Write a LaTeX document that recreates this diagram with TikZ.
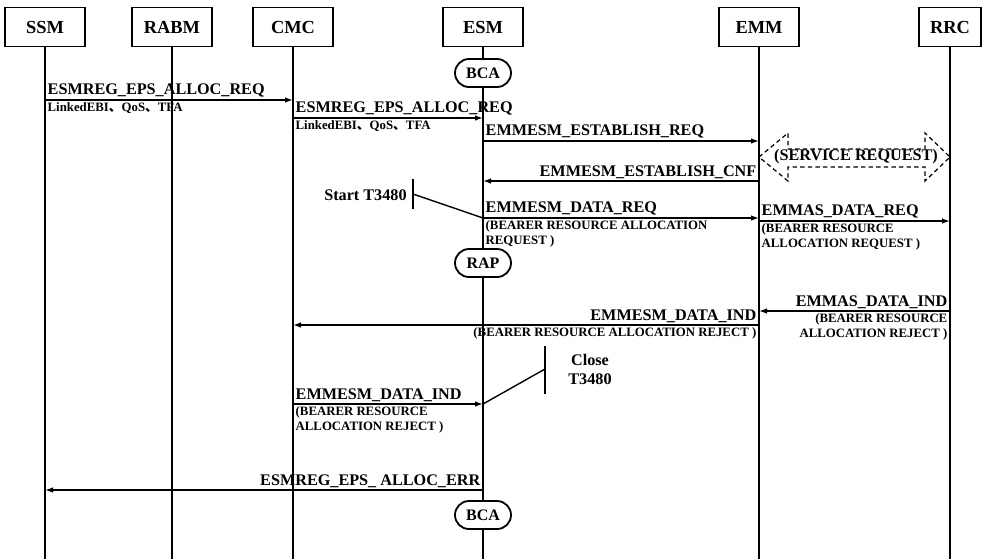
\documentclass[tikz,border=0pt]{standalone}
\usepackage{fontspec}
\setmainfont{Liberation Serif}
\newfontfamily\cjk{Noto Sans CJK SC}
\usetikzlibrary{arrows.meta, positioning, shapes.misc}

\tikzset{
  entity/.style={draw, line width=0.9pt, minimum height=19.5pt, inner sep=1pt,
                 font=\fontsize{9.2}{11}\selectfont\bfseries},
  proc/.style={rounded rectangle, draw, line width=0.9pt, fill=white,
               minimum width=30pt, minimum height=14pt, inner sep=1pt,
               font=\fontsize{8}{10}\selectfont\bfseries},
  life/.style={line width=0.7pt},
  msg/.style={line width=0.7pt, -{Latex[length=4pt,width=2.8pt]}},
  lbl/.style={font=\fontsize{8.1}{9.5}\selectfont\bfseries, inner sep=1pt},
  sublbl/.style={font=\fontsize{6.4}{7.5}\selectfont\bfseries, inner sep=1pt, align=left},
}

\begin{document}
\begin{tikzpicture}[x=0.5pt, y=-0.5pt]
  \useasboundingbox (0,0) rectangle (990,559);

  % Entities with lifelines
  \foreach \nm/\x/\w in {SSM/45/40pt, RABM/172/40pt, CMC/293/40pt,
                         ESM/483/40pt, EMM/759/40pt, RRC/950/31pt} {
    \node[entity, minimum width=\w] (\nm) at (\x,27) {\nm};
    \draw[life] (\nm.south) -- (\nm |- 0,559);
  }

  % Procedures on the ESM lifeline
  \node[proc] (bcaTop) at (483,73) {BCA};
  \node[proc] (rap) at (483,263) {RAP};
  \node[proc] (bcaEnd) at (483,515) {BCA};

  % Allocation request
  \draw[msg] (SSM |- 0,100) -- (CMC |- 0,100)
    node[lbl, pos=0, above right] {ESMREG\_EPS\_ALLOC\_REQ}
    node[sublbl, pos=0, below right] {LinkedEBI{\cjk 、}QoS{\cjk 、}TFA};
  \draw[msg] (CMC |- 0,118) -- (ESM |- 0,118)
    node[lbl, pos=0, above right] {ESMREG\_EPS\_ALLOC\_REQ}
    node[sublbl, pos=0, below right] {LinkedEBI{\cjk 、}QoS{\cjk 、}TFA};

  % Establishment
  \draw[msg] (ESM |- 0,141) -- (EMM |- 0,141)
    node[lbl, pos=0, above right] {EMMESM\_ESTABLISH\_REQ};
  \draw[msg] (EMM |- 0,181) -- (ESM |- 0,181)
    node[lbl, pos=0, above left] {EMMESM\_ESTABLISH\_CNF};

  % Service request (dashed double arrow)
  \node[lbl] (srvReq) at (856,157) {(SERVICE REQUEST)};
  \draw[line width=0.6pt, dash pattern=on 2.2pt off 1.6pt]
    (EMM |- 0,157) -- (788,133) -- (788,149) -- (925,149) -- (925,133)
    -- (RRC |- 0,157) -- (925,181) -- (925,167) -- (788,167) -- (788,181) -- cycle;

  % Data request
  \draw[msg] (ESM |- 0,218) -- (EMM |- 0,218)
    node[lbl, pos=0, above right] {EMMESM\_DATA\_REQ}
    node[sublbl, pos=0, below right] {(BEARER RESOURCE ALLOCATION\\REQUEST )};
  \draw[msg] (EMM |- 0,221) -- (RRC |- 0,221)
    node[lbl, pos=0, above right] {EMMAS\_DATA\_REQ}
    node[sublbl, pos=0, below right] {(BEARER RESOURCE\\ALLOCATION REQUEST )};

  % Timer start
  \node[lbl, anchor=east] (tStart) at (409,195) {Start T3480};
  \coordinate (tStartMark) at (413,194);
  \draw[life] (413,179) -- (413,209);
  \draw[life] (tStartMark) -- (ESM |- 0,218);

  % Reject from network
  \draw[msg] (RRC |- 0,311) -- (EMM |- 0,311)
    node[lbl, pos=0, above left] {EMMAS\_DATA\_IND}
    node[sublbl, pos=0, below left, align=right] {(BEARER RESOURCE\\ALLOCATION REJECT )};
  \draw[msg] (EMM |- 0,325) -- (CMC |- 0,325)
    node[lbl, pos=0, above left] {EMMESM\_DATA\_IND}
    node[sublbl, pos=0, below left] {(BEARER RESOURCE ALLOCATION REJECT )};

  % Timer stop
  \node[lbl, align=center, anchor=west] (tClose) at (566,369) {Close\\T3480};
  \coordinate (tCloseMark) at (545,369);
  \draw[life] (545,346) -- (545,394);
  \draw[life] (tCloseMark) -- (ESM |- 0,404);

  \draw[msg] (CMC |- 0,404) -- (ESM |- 0,404)
    node[lbl, pos=0, above right] {EMMESM\_DATA\_IND}
    node[sublbl, pos=0, below right] {(BEARER RESOURCE\\ALLOCATION REJECT )};

  % Error back to SSM
  \draw[msg] (ESM |- 0,490) -- (SSM |- 0,490)
    node[lbl, pos=0, above left] {ESMREG\_EPS\_ ALLOC\_ERR};
\end{tikzpicture}
\end{document}
